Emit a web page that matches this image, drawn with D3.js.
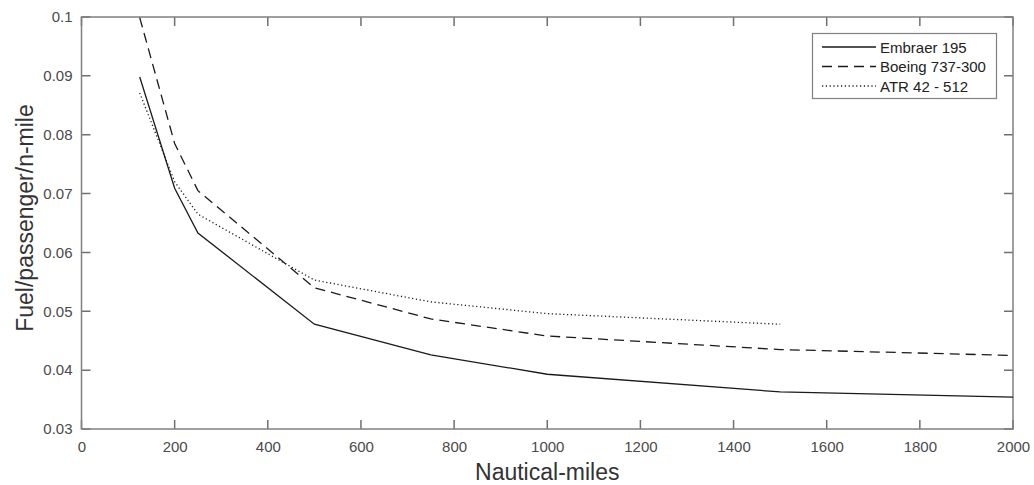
<!DOCTYPE html>
<html><head><meta charset="utf-8">
<script src="https://cdn.jsdelivr.net/npm/d3@7"></script>
<style>body{margin:0;background:#fff}svg{display:block}text{font-family:"Liberation Sans",Arial,sans-serif}</style>
</head><body><svg id="c" width="1034" height="485"></svg>
<script>
const distances = [125, 200, 250, 500, 750, 1000, 1500, 2000];
const embraer195 = [0.0898, 0.0709, 0.0633, 0.0478, 0.0426, 0.0393, 0.0363, 0.0354];
const boeing737 = [0.0999, 0.0785, 0.0705, 0.0540, 0.0487, 0.0458, 0.0435, 0.0425];
const atrDistances = [125, 200, 250, 500, 750, 1000, 1500];
const atr42 = [0.0871, 0.0720, 0.0665, 0.0553, 0.0516, 0.0496, 0.0478];
const seriesNames = ["Embraer 195", "Boeing 737-300", "ATR 42 - 512"];
const xTicks = [0,200,400,600,800,1000,1200,1400,1600,1800,2000];
const yTicks = [0.03,0.04,0.05,0.06,0.07,0.08,0.09,0.1];

const svg = d3.select("#c");
const L=81.5, R=1013, T=17, B=429;
const x = d3.scaleLinear().domain([0,2000]).range([L,R]);
const y = d3.scaleLinear().domain([0.03,0.1]).range([B,T]);
const axisCol = "#707070", textCol = "#4a4a4a", TK = 9;

function styleAxis(g){
  g.select(".domain").remove();
  g.selectAll(".tick line").remove();
  g.selectAll(".tick text").attr("fill", textCol).style("font-size","15px").style("font-family","Liberation Sans, Arial, sans-serif");
}
svg.append("g").attr("transform",`translate(0,${B})`)
  .call(d3.axisBottom(x).tickValues(xTicks).tickFormat(d3.format("d")).tickSize(0).tickPadding(12))
  .call(styleAxis);
svg.append("g").attr("transform",`translate(${L},0)`)
  .call(d3.axisLeft(y).tickValues(yTicks).tickFormat(d=>d===0.1?"0.1":d3.format(".2f")(d)).tickSize(0).tickPadding(9))
  .call(styleAxis);

// tick marks (inward, all four sides) as paths
const xt = xTicks.map(d=>`M${x(d)},${B}V${B-TK}M${x(d)},${T}V${T+TK}`).join("");
const yt = yTicks.map(d=>`M${L},${y(d)}H${L+TK}M${R},${y(d)}H${R-TK}`).join("");
svg.append("path").attr("d", xt + yt).attr("fill","none").attr("stroke",axisCol).attr("stroke-width",1.5);
// box
svg.append("rect").attr("x",L).attr("y",T).attr("width",R-L).attr("height",B-T)
  .attr("fill","none").attr("stroke","#808080").attr("stroke-width",1.5);

const line = d3.line().x(d=>x(d[0])).y(d=>y(d[1]));
const series = [
  {pts: distances.map((d,i)=>[d,embraer195[i]]), dash:null, w:1.3},
  {pts: distances.map((d,i)=>[d,boeing737[i]]), dash:"10,6", w:1.3},
  {pts: atrDistances.map((d,i)=>[d,atr42[i]]), dash:"1.2,2.6", w:1.3}
];
series.forEach(s=>{
  svg.append("path").attr("d", line(s.pts)).attr("fill","none").attr("stroke","#1a1a1a")
    .attr("stroke-width", s.w).attr("stroke-dasharray", s.dash);
});

// legend
const lg = svg.append("g");
lg.append("rect").attr("x",812.5).attr("y",33.5).attr("width",184).attr("height",65)
  .attr("fill","#fff").attr("stroke","#808080").attr("stroke-width",1.2);
seriesNames.forEach((n,i)=>{
  const yy = 47 + i*19.5;
  lg.append("line").attr("x1",822).attr("x2",876).attr("y1",yy).attr("y2",yy)
    .attr("stroke","#1a1a1a").attr("stroke-width",1.3).attr("stroke-dasharray",series[i].dash);
  lg.append("text").attr("x",880).attr("y",yy+5.5).text(n).attr("fill","#222").style("font-size","15px");
});

svg.append("text").attr("x",(L+R)/2).attr("y",480).attr("text-anchor","middle")
  .attr("fill","#333").style("font-size","23px").text("Nautical-miles");
svg.append("text").attr("transform",`translate(33,${218}) rotate(-90)`).attr("text-anchor","middle")
  .attr("fill","#333").style("font-size","23px").text("Fuel/passenger/n-mile");
</script></body></html>
